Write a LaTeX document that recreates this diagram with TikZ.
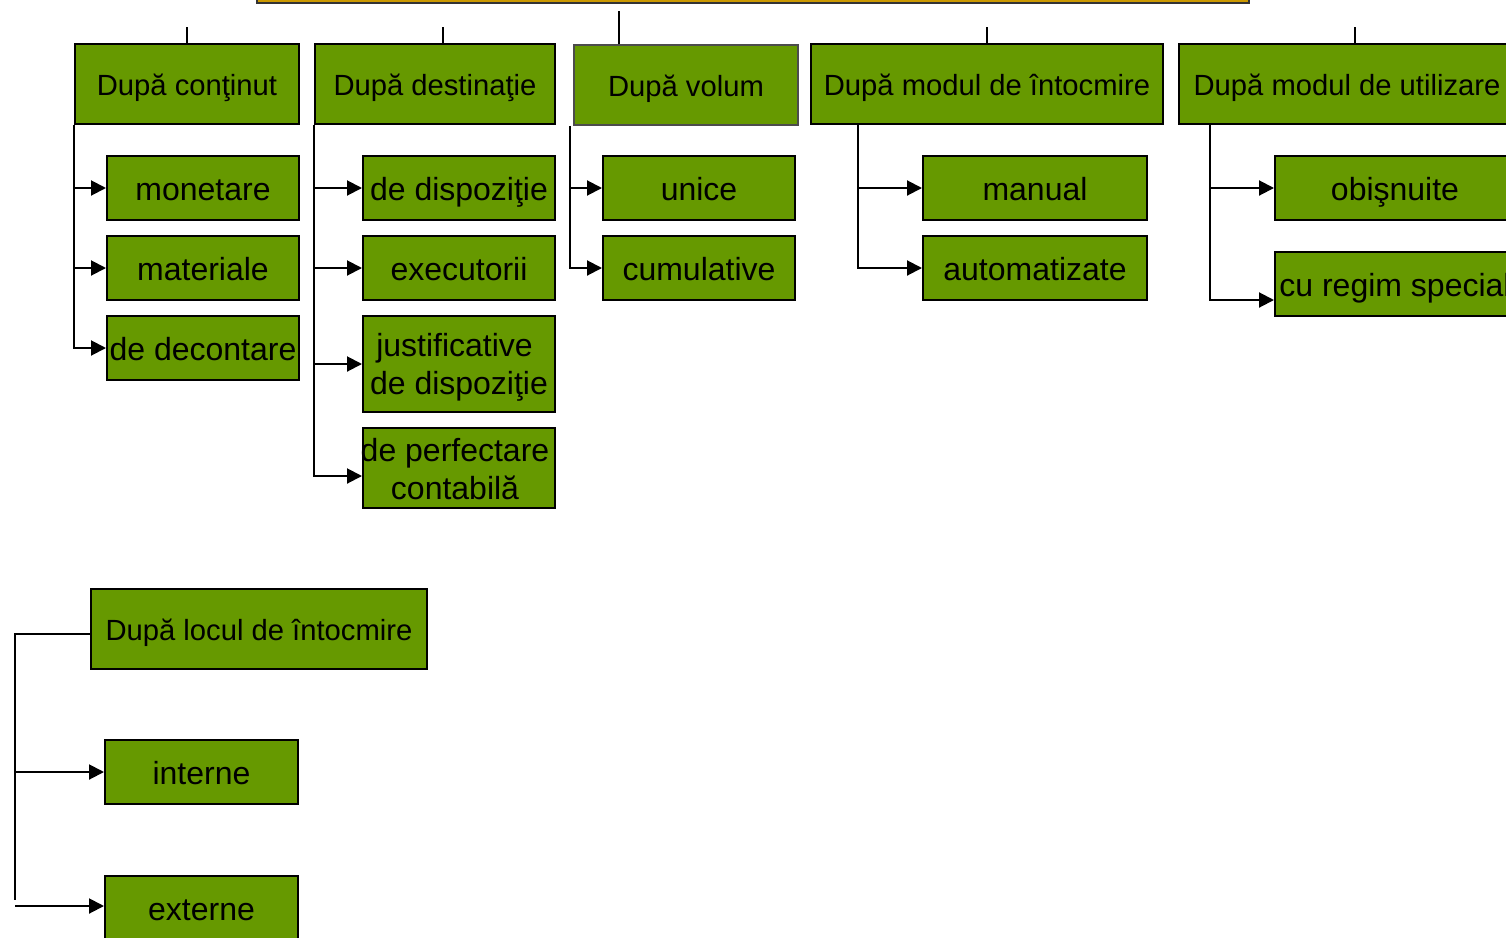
\documentclass[tikz,border=0pt]{standalone}
\usepackage{fontspec}
\setmainfont{Liberation Sans}
\usetikzlibrary{arrows.meta}
\definecolor{boxgreen}{HTML}{669900}
\definecolor{topgold}{HTML}{CC9900}
\newcommand{\twolines}[2]{\begin{tabular}[t]{@{}c@{}}#1\\#2\end{tabular}}
\tikzset{
  catbox/.style={draw=black, line width=2pt, fill=boxgreen, inner sep=0pt,
    minimum height=80pt, text=black, text height=22pt, text depth=0pt,
    font=\fontsize{29.2}{35}\selectfont},
  subbox/.style={draw=black, line width=2pt, fill=boxgreen, inner sep=0pt,
    minimum height=64pt, text=black, text height=24pt, text depth=0pt,
    font=\fontsize{32}{38}\selectfont},
  conn/.style={draw=black, line width=2pt},
  arr/.style={conn, -{Triangle[length=15pt,width=15pt]}},
}
\begin{document}
\begin{tikzpicture}[x=1pt,y=-1pt]
\useasboundingbox (0,0) rectangle (1506,937);
% top box (mostly outside the frame)
\node[draw=black!80, line width=2pt, fill=topgold, minimum width=992pt,
  minimum height=40pt, inner sep=0pt, anchor=south] (top) at (753,4) {};
% categories
\node[catbox, minimum width=224pt] (c1) at (187,84) {După conţinut};
\node[catbox, minimum width=240pt] (c2) at (435,84) {După destinaţie};
\node[catbox, minimum width=224pt, draw=black!70, line width=1.5pt] (c3) at (686,85) {După volum};
\node[catbox, minimum width=352pt] (c4) at (987,84) {După modul de întocmire};
\node[catbox, minimum width=336pt] (c5) at (1347,84) {După modul de utilizare};
% top stubs
\draw[conn] (c1.north) -- ++(0,-16);
\draw[conn] ([xshift=8pt]c2.north) -- ++(0,-16);
\draw[conn] ([xshift=-67pt]c3.north) -- ++(0,-33);
\draw[conn] (c4.north) -- ++(0,-16);
\draw[conn] ([xshift=8pt]c5.north) -- ++(0,-16);
% children of c1
\node[subbox, minimum width=192pt] (mon) at (203,188) {monetare};
\node[subbox, minimum width=192pt] (mat) at (203,268) {materiale};
\node[subbox, minimum width=192pt] (dec) at (203,348) {de decontare};
\draw[arr] (c1.south west) |- (dec.west);
\draw[arr] (c1.south west |- mon.west) -- (mon.west);
\draw[arr] (c1.south west |- mat.west) -- (mat.west);
% children of c2
\node[subbox, minimum width=192pt] (dis) at (459,188) {de dispoziţie};
\node[subbox, minimum width=192pt] (exe) at (459,268) {executorii};
\node[subbox, minimum width=192pt, minimum height=96pt, text height=0pt, text depth=15pt] (jus) at (459,364) {\twolines{justificative\hspace*{9pt}}{de dispoziţie}};
\node[subbox, minimum width=192pt, minimum height=80pt, text height=0pt, text depth=14pt] (per) at (459,468) {\hspace*{-8pt}\twolines{de perfectare}{contabilă}};
\draw[arr] (c2.south west) |- ([yshift=-8pt]per.west);
\draw[arr] (c2.south west |- dis.west) -- (dis.west);
\draw[arr] (c2.south west |- exe.west) -- (exe.west);
\draw[arr] (c2.south west |- jus.west) -- (jus.west);
% children of c3
\node[subbox, minimum width=192pt] (uni) at (699,188) {unice};
\node[subbox, minimum width=192pt] (cum) at (699,268) {cumulative};
\coordinate (b3) at ([xshift=-3pt]c3.south west);
\draw[arr] (b3) |- (cum.west);
\draw[arr] (b3 |- uni.west) -- (uni.west);
% children of c4
\node[subbox, minimum width=224pt] (man) at (1035,188) {manual};
\node[subbox, minimum width=224pt] (aut) at (1035,268) {automatizate};
\coordinate (b4) at ([xshift=48pt]c4.south west);
\draw[arr] (b4) |- (aut.west);
\draw[arr] (b4 |- man.west) -- (man.west);
% children of c5
\node[subbox, minimum width=240pt] (obi) at (1395,188) {obişnuite};
\node[subbox, minimum width=240pt] (crs) at (1395,284) {cu regim special};
\coordinate (b5) at ([xshift=32pt]c5.south west);
\draw[arr] (b5) |- ([yshift=-16pt]crs.west);
\draw[arr] (b5 |- obi.west) -- (obi.west);
% bottom group
\node[catbox, minimum width=336pt] (loc) at (259,629) {După locul de întocmire};
\node[subbox, minimum width=193pt] (int) at (201.5,772) {interne};
\node[subbox, minimum width=193pt] (ext) at (201.5,908) {externe};
\coordinate (lb) at (15,634);
\coordinate (ea) at (15,906);
\draw[conn, line width=1.5pt] ([yshift=-5pt]loc.west) -- (lb) -- (15,900);
\draw[arr] (lb |- int.west) -- (int.west);
\draw[arr] (ea) -- (ea -| ext.west);
\end{tikzpicture}
\end{document}
